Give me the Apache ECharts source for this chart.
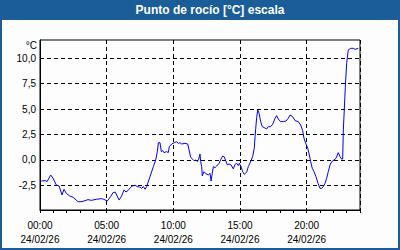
<!DOCTYPE html>
<html>
<head>
<meta charset="utf-8">
<script src="https://cdn.jsdelivr.net/npm/echarts@6/dist/echarts.min.js"></script>
<style>html,body{margin:0;padding:0;background:#1b5d98}#c{width:400px;height:250px}</style>
</head>
<body>
<div id="c"></div>
<script>
const titleText = 'Punto de rocío [°C] escala';
const unitText = '°C';
const dateText = '24/02/26';
const xLabelHours = [0, 5, 10, 15, 20];
const yTickValues = [-2.5, 0, 2.5, 5, 7.5, 10];
const hours = [0.10,0.40,0.53,0.80,0.98,1.22,1.43,1.65,1.80,1.97,2.23,2.48,2.85,3.15,3.60,3.85,4.22,4.60,4.78,5.05,5.30,5.48,5.65,5.93,6.10,6.30,6.45,6.62,6.80,6.92,7.13,7.30,7.45,7.63,7.75,7.88,8.00,8.25,8.50,8.68,8.80,8.88,9.00,9.10,9.20,9.30,9.50,9.62,9.70,9.88,10.07,10.25,10.37,10.50,10.63,10.88,11.08,11.18,11.30,11.45,11.55,11.70,11.80,11.90,12.00,12.05,12.13,12.17,12.30,12.45,12.62,12.75,12.83,12.92,13.00,13.13,13.25,13.43,13.58,13.70,13.82,13.93,14.05,14.18,14.33,14.50,14.63,14.75,14.88,14.95,15.08,15.20,15.32,15.50,15.62,15.83,15.95,16.07,16.13,16.18,16.25,16.33,16.43,16.55,16.67,16.82,17.00,17.12,17.30,17.45,17.63,17.75,17.87,18.05,18.25,18.45,18.62,18.75,18.95,19.13,19.37,19.55,19.70,19.80,19.93,20.08,20.20,20.30,20.42,20.55,20.70,20.85,21.00,21.13,21.25,21.38,21.50,21.62,21.75,21.88,22.05,22.20,22.37,22.50,22.63,22.70,22.75,22.82,22.90,23.00,23.12,23.30,23.50,23.63,23.87];
const dewPoint = [-2.07,-2.03,-2.13,-1.48,-1.80,-2.46,-2.56,-3.44,-2.88,-3.28,-3.54,-3.67,-4.10,-4.10,-3.90,-3.97,-3.87,-3.80,-3.87,-4.03,-3.60,-3.20,-3.17,-3.93,-3.60,-2.95,-3.15,-2.98,-2.69,-2.56,-2.49,-2.62,-2.65,-2.79,-2.62,-2.88,-2.62,-1.64,-0.66,0.00,0.82,1.70,1.70,0.82,0.92,0.72,0.82,0.72,1.31,1.57,1.70,1.80,1.64,1.70,1.57,1.64,1.57,0.98,0.26,0.07,-0.07,0.00,-0.16,0.07,0.59,-0.16,-0.66,-1.57,-1.15,-1.36,-1.47,-1.31,-2.07,-1.31,-0.66,-0.75,-0.60,-0.33,0.10,0.39,0.30,-0.07,-0.49,-0.39,-0.49,-0.88,-0.43,-0.33,-0.56,-0.33,-0.66,-1.15,-1.41,-1.21,-0.66,-0.07,0.33,1.15,2.29,3.11,4.16,4.92,4.59,3.77,3.28,3.18,3.05,3.28,3.28,3.51,4.10,4.36,4.03,3.77,3.77,3.83,4.10,4.42,4.26,3.87,3.77,3.44,2.88,2.13,1.64,1.15,0.49,-0.16,-0.82,-1.15,-1.64,-2.29,-2.79,-2.79,-2.62,-2.29,-1.80,-1.15,-0.49,-0.16,0.00,0.16,0.72,0.33,0.07,0.10,2.95,4.92,7.21,9.51,10.82,10.98,10.98,10.88,10.98];

const seriesData = hours.map((h, i) => [h, dewPoint[i]]);
const pad = n => (n < 10 ? '0' : '') + n;
const FONT = 'Liberation Sans';

const chart = echarts.init(document.getElementById('c'), null, {renderer: 'svg'});
chart.setOption({
  backgroundColor: '#1b5d98',
  animation: false,
  graphic: {
    elements: [
      {type: 'rect', z: -10, silent: true, shape: {x: 2, y: 20, width: 396, height: 228}, style: {fill: '#fcfdfc'}},
      {type: 'text', z: 10, silent: true, style: {text: titleText, x: 210, y: 10, align: 'center', verticalAlign: 'middle', fill: '#ffffff', font: 'bold 12px "Liberation Sans"'}}
    ]
  },
  grid: {left: 40, right: 40, top: 40, bottom: 40, show: true, borderColor: '#000', borderWidth: 1, backgroundColor: 'transparent'},
  xAxis: [{
    type: 'value', min: 0, max: 24, interval: 5,
    axisLine: {show: true, onZero: false, lineStyle: {color: '#000', width: 1}},
    axisTick: {show: false},
    axisLabel: {
      show: true, margin: 8, color: '#000', fontFamily: FONT, fontSize: 10, lineHeight: 14,
      formatter: v => (xLabelHours.indexOf(v) >= 0 ? pad(v) + ':00\n' + dateText : '')
    },
    splitLine: {show: true, lineStyle: {color: '#000', type: [4, 3], width: 1}}
  }, {
    type: 'value', min: 0, max: 24, interval: 1, position: 'bottom',
    axisLine: {show: false, onZero: false},
    axisTick: {show: true, inside: false, length: 3, lineStyle: {color: '#000'}},
    axisLabel: {show: false},
    splitLine: {show: false}
  }],
  yAxis: {
    type: 'value', min: -4.92, max: 11.8,
    name: unitText, nameLocation: 'end', nameGap: -5,
    nameTextStyle: {align: 'right', verticalAlign: 'middle', color: '#000', fontFamily: FONT, fontSize: 10, padding: [0, 3, 0, 0]},
    axisLine: {show: true, onZero: false, lineStyle: {color: '#000', width: 1}},
    axisTick: {show: false, customValues: yTickValues},
    axisLabel: {show: true, customValues: yTickValues, margin: 4, color: '#000', fontFamily: FONT, fontSize: 10,
      formatter: v => v.toFixed(1).replace('.', ',')},
    splitLine: {show: true, lineStyle: {color: '#000', type: [4, 3], width: 1}}
  },
  series: [{
    type: 'line', xAxisIndex: 0, data: seriesData, showSymbol: false, symbol: 'none',
    lineStyle: {color: '#0000ff', width: 1}, clip: true
  }]
});
</script>
</body>
</html>
